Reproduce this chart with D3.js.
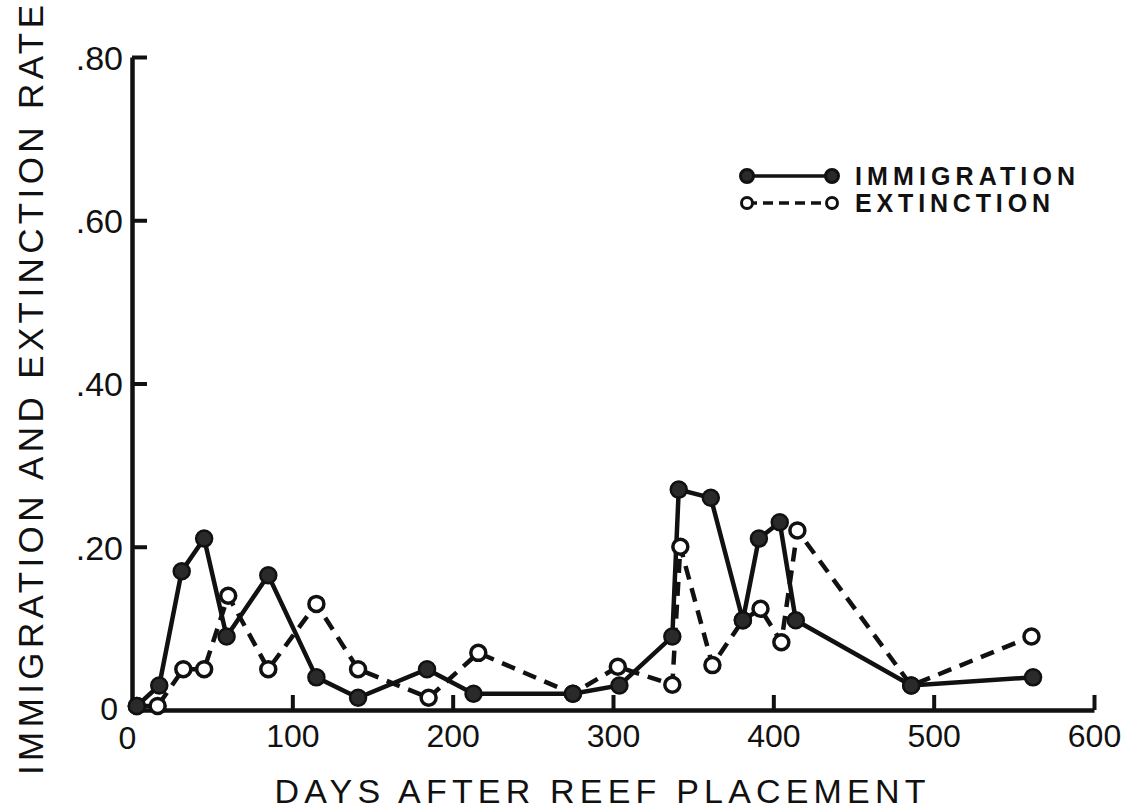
<!DOCTYPE html>
<html>
<head>
<meta charset="utf-8">
<script src="https://cdn.jsdelivr.net/npm/d3@7"></script>
<style>
  body { margin: 0; background: #fff; }
  text { font-family: "Liberation Sans", Arial, sans-serif; fill: #111; }
</style>
</head>
<body>
<script>
// days after reef placement / rate
var immDays = [3, 17, 31, 45, 59, 85, 115, 141, 184, 213, 275, 304, 337, 341, 361, 381, 391, 404, 414, 486, 562]
var immRate = [.005, .03, .17, .21, .09, .165, .04, .015, .05, .02, .02, .03, .09, .27, .26, .11, .21, .23, .11, .03, .04]

var extDays = [3, 16, 32, 45, 60, 85, 115, 141, 185, 216, 275, 303, 337, 342, 362, 381, 392, 405, 415, 486, 561]
var extRate = [.005, .005, .05, .05, .14, .05, .13, .05, .015, .07, .02, .053, .031, .20, .055, .11, .124, .083, .22, .03, .09]

var xTicks = [0, 100, 200, 300, 400, 500, 600]
var yTicks = [0, .2, .4, .6, .8]
var yTickLabels = ['0', '.20', '.40', '.60', '.80']

var legendNames = ['IMMIGRATION', 'EXTINCTION']

var immData = immDays.map(function(d, i){ return {day: d, rate: immRate[i]} })
var extData = extDays.map(function(d, i){ return {day: d, rate: extRate[i]} })

var svg = d3.select('body').append('svg').attr('width', 1126).attr('height', 812)

var x = d3.scaleLinear().domain([0, 600]).range([132, 1094])
var y = d3.scaleLinear().domain([0, .8]).range([710, 57])

// axes, ticks pointing inward like the original
var yAxis = d3.axisLeft(y).tickValues(yTicks)
  .tickFormat(function(d, i){ return yTickLabels[i] })
  .tickSizeInner(-15).tickSizeOuter(0).tickPadding(9)
var xAxis = d3.axisBottom(x).tickValues(xTicks)
  .tickSizeInner(-15).tickSizeOuter(0).tickPadding(14)

var gy = svg.append('g').attr('transform', 'translate(132,0)').call(yAxis)
var gx = svg.append('g').attr('transform', 'translate(0,710)').call(xAxis)

;[gx, gy].forEach(function(g){
  g.selectAll('path.domain').attr('stroke', '#111').attr('stroke-width', 4.5)
  g.selectAll('.tick line').attr('stroke', '#111').attr('stroke-width', 4)
  g.selectAll('.tick text').attr('font-size', 32).attr('fill', '#111')
    .attr('font-family', '"Liberation Sans", Arial, sans-serif')
})
gy.selectAll('.tick text').attr('dy', '0.36em').attr('font-size', 34)
// the two zeros sit side by side at the origin
var y0 = gy.selectAll('.tick').filter(function(d){ return d === 0 })
y0.select('line').remove()
y0.select('text').attr('x', -14).attr('font-size', 32).attr('dy', '0.3em')
var x0 = gx.selectAll('.tick').filter(function(d){ return d === 0 })
x0.select('line').remove()
x0.select('text').attr('x', -5).attr('y', 16)

// axis titles
svg.append('text')
  .attr('transform', 'translate(600,803)')
  .attr('text-anchor', 'middle')
  .attr('font-size', 34)
  .attr('textLength', 651).attr('lengthAdjust', 'spacing')
  .text('DAYS AFTER REEF PLACEMENT')

svg.append('text')
  .attr('transform', 'translate(43,390) rotate(-90)')
  .attr('text-anchor', 'middle')
  .attr('font-size', 35)
  .attr('textLength', 770).attr('lengthAdjust', 'spacing')
  .text('IMMIGRATION AND EXTINCTION RATE')

// series
var line = d3.line().x(function(d){ return x(d.day) }).y(function(d){ return y(d.rate) })

svg.append('path').datum(extData)
  .attr('d', line).attr('fill', 'none')
  .attr('stroke', '#111').attr('stroke-width', 4.5)
  .attr('stroke-dasharray', '14,9')

svg.append('path').datum(immData)
  .attr('d', line).attr('fill', 'none')
  .attr('stroke', '#111').attr('stroke-width', 4.5)

svg.append('g').selectAll('circle').data(extData).join('circle')
  .attr('cx', function(d){ return x(d.day) })
  .attr('cy', function(d){ return y(d.rate) })
  .attr('r', 7.5).attr('fill', '#fff')
  .attr('stroke', '#111').attr('stroke-width', 3.5)

svg.append('g').selectAll('circle').data(immData).join('circle')
  .attr('cx', function(d){ return x(d.day) })
  .attr('cy', function(d){ return y(d.rate) })
  .attr('r', 8).attr('fill', '#2a2a2a')
  .attr('stroke', '#111').attr('stroke-width', 2.5)

// legend
var leg = svg.append('g')
var rows = [
  {name: legendNames[0], y: 176, dash: null, fill: '#2a2a2a', r: 6.5},
  {name: legendNames[1], y: 203, dash: '10,6', fill: '#fff', r: 5.5}
]
rows.forEach(function(r, i){
  leg.append('line')
    .attr('x1', 747).attr('x2', 832).attr('y1', r.y).attr('y2', r.y)
    .attr('stroke', '#111').attr('stroke-width', 3.5)
    .attr('stroke-dasharray', r.dash)
  ;[747, 832].forEach(function(cx){
    leg.append('circle').attr('cx', cx).attr('cy', r.y).attr('r', r.r)
      .attr('fill', r.fill).attr('stroke', '#111').attr('stroke-width', 3)
  })
  leg.append('text')
    .attr('x', 855).attr('y', r.y + 9)
    .attr('font-size', 25).attr('font-weight', 'bold')
    .attr('textLength', i === 0 ? 220 : 195).attr('lengthAdjust', 'spacing')
    .text(r.name)
})
</script>
</body>
</html>
